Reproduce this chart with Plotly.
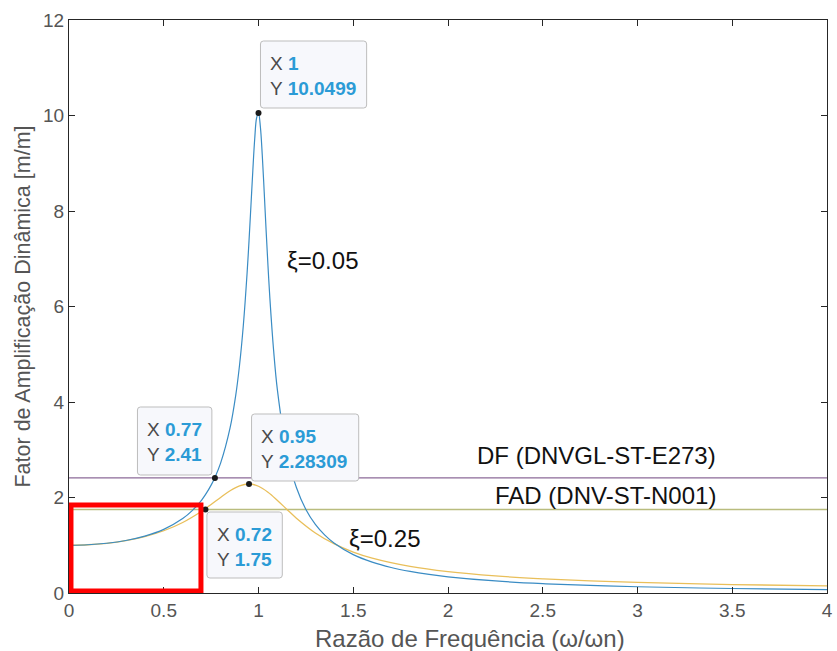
import plotly.graph_objects as go

# ---- data ----
r_a = [0, 0.1, 0.2, 0.3, 0.4, 0.5, 0.6, 0.65, 0.7, 0.72, 0.75, 0.77, 0.8, 0.85, 0.88, 0.9, 0.92, 0.94,
       0.95, 0.96, 0.97, 0.98, 0.99, 1.0, 1.01, 1.02, 1.03, 1.04, 1.05, 1.06, 1.08, 1.1, 1.15, 1.2,
       1.25, 1.3, 1.35, 1.4, 1.5, 1.6, 1.7, 1.8, 1.9, 2.0, 2.25, 2.5, 2.75, 3.0, 3.5, 4.0]
t_a = [1.0, 1.0101, 1.0417, 1.0988, 1.1901, 1.3320, 1.5585, 1.7244, 1.9473, 2.0589, 2.2592, 2.4207,
       2.7203, 3.4580, 4.1454, 4.7757, 5.6089, 6.7131, 7.3790, 8.1049, 8.8449, 9.5061, 9.9514,
       10.0499, 9.7601, 9.1622, 8.4013, 7.6056, 6.8523, 6.1758, 5.0702, 4.2436, 2.9399, 2.2084,
       1.7490, 1.4362, 1.2106, 1.0408, 0.8032, 0.6458, 0.5345, 0.4521, 0.3890, 0.3392, 0.2519,
       0.1961, 0.1579, 0.1304, 0.0941, 0.0718]

r_b = [0, 0.1, 0.2, 0.3, 0.4, 0.5, 0.6, 0.7, 0.75, 0.8, 0.85, 0.9, 0.95, 1.0, 1.05, 1.1, 1.15,
       1.2, 1.3, 1.4, 1.5, 1.6, 1.8, 2.0, 2.25, 2.5, 2.75, 3.0, 3.5, 4.0]
t_b = [1.0, 1.0101, 1.0412, 1.0964, 1.1810, 1.3039, 1.4771, 1.7129, 1.8535, 2.0014, 2.1407, 2.2450,
       2.2831, 2.2361, 2.1114, 1.9385, 1.7497, 1.5674, 1.2582, 1.0274, 0.8575, 0.7305, 0.5573,
       0.4472, 0.3571, 0.2966, 0.2536, 0.2215, 0.1770, 0.1478]

df_level = 2.41
fad_level = 1.75
x_range = [0, 4]

tip_x = [1, 0.77, 0.95, 0.72]
tip_y = [10.0499, 2.41, 2.28309, 1.75]
tip_xlabel = ["1", "0.77", "0.95", "0.72"]
tip_ylabel = ["10.0499", "2.41", "2.28309", "1.75"]

x_ticks = [0, 0.5, 1, 1.5, 2, 2.5, 3, 3.5, 4]
x_ticklabels = ["0", "0.5", "1", "1.5", "2", "2.5", "3", "3.5", "4"]
y_ticks = [0, 2, 4, 6, 8, 10, 12]

# ---- geometry helpers (pixel -> data) ----
L, R, T, B = 69, 833, 20, 593
W, H = 837, 651
def px(xp):
    return (xp - L) / (R - L) * 4
def py(yp):
    return (B - yp) / (B - T) * 12

FONT = "Arial, 'Liberation Sans', sans-serif"
BLUE_TXT = "#2b9bd6"

fig = go.Figure()
fig.add_trace(go.Scatter(x=x_range, y=[df_level, df_level], mode="lines",
                         line=dict(color="#8b6a98", width=1.2), hoverinfo="skip"))
fig.add_trace(go.Scatter(x=x_range, y=[fad_level, fad_level], mode="lines",
                         line=dict(color="#b9bc7e", width=1.5), hoverinfo="skip"))
fig.add_trace(go.Scatter(x=r_b, y=t_b, mode="lines", line_shape="spline",
                         line=dict(color="#e9bf5a", width=1.3), hoverinfo="skip"))
fig.add_trace(go.Scatter(x=r_a, y=t_a, mode="lines", line_shape="spline",
                         line=dict(color="#3a8cc4", width=1.2), hoverinfo="skip"))
fig.add_trace(go.Scatter(x=tip_x, y=tip_y, mode="markers",
                         marker=dict(color="#1a1a1a", size=6), hoverinfo="skip"))

# data tip boxes (pixel boxes: left, top, right, bottom)
boxes = [(262, 41, 369, 108), (138, 407, 213, 475), (253, 414, 361, 481), (208, 512, 284, 578)]
rx, ry = 3 * 4 / (R - L), 3 * 12 / (B - T)
for (l, t, r, b), xl, yl in zip(boxes, tip_xlabel, tip_ylabel):
    x0, x1, y0, y1 = px(l), px(r), py(b), py(t)
    path = (f"M {x0+rx},{y0} L {x1-rx},{y0} Q {x1},{y0} {x1},{y0+ry} L {x1},{y1-ry} "
            f"Q {x1},{y1} {x1-rx},{y1} L {x0+rx},{y1} Q {x0},{y1} {x0},{y1-ry} "
            f"L {x0},{y0+ry} Q {x0},{y0} {x0+rx},{y0} Z")
    fig.add_shape(type="path", path=path, xref="x", yref="y",
                  fillcolor="#f7f8fc", line=dict(color="#bdbdbd", width=1), layer="above")
    for dy, lab, val in [(22, "X", xl), (47, "Y", yl)]:
        fig.add_annotation(x=px(l + 8), y=py(t + dy), xref="x", yref="y", showarrow=False,
                           xanchor="left", yanchor="middle",
                           text=f"<span style='color:#4a4a4a'>{lab}</span> "
                                f"<b><span style='color:{BLUE_TXT}'>{val}</span></b>",
                           font=dict(family=FONT, size=19, color="#4a4a4a"))

# red highlight rectangle
fig.add_shape(type="rect", x0=px(71), x1=px(202), y0=py(591), y1=py(505),
              line=dict(color="#ff0000", width=5), layer="above")

labels = [("ξ=0.05", 325, 260), ("ξ=0.25", 387, 538),
          ("DF (DNVGL-ST-E273)", 601, 455), ("FAD (DNV-ST-N001)", 610, 495)]
for txt, xp_, yp_ in labels:
    fig.add_annotation(x=px(xp_), y=py(yp_), xref="x", yref="y", showarrow=False,
                       text=txt, font=dict(family=FONT, size=24, color="#111111"))

# x-axis title (placed as in the reference, slightly right of centre)
fig.add_annotation(x=(473 - L) / (R - L), y=(B - 638) / (B - T), xref="paper", yref="paper",
                   showarrow=False, xanchor="center", yanchor="middle",
                   text="Razão de Frequência (ω/ωn)",
                   font=dict(family=FONT, size=24, color="#555555"))

axis_common = dict(showline=True, linecolor="#262626", linewidth=1, mirror="ticks",
                   ticks="inside", ticklen=6, tickcolor="#262626", showgrid=False,
                   zeroline=False, ticklabeloverflow="allow",
                   tickfont=dict(family=FONT, size=19, color="#555555"))
fig.update_xaxes(range=x_range, tickvals=x_ticks, ticktext=x_ticklabels, **axis_common)
fig.update_yaxes(range=[0, 12], tickvals=y_ticks,
                 title=dict(text="Fator de Amplificação Dinâmica [m/m]", standoff=6,
                            font=dict(family=FONT, size=21.5, color="#555555")),
                 **axis_common)
fig.update_layout(width=W, height=H, showlegend=False,
                  margin=dict(l=L, r=W - R, t=T, b=H - B),
                  paper_bgcolor="white", plot_bgcolor="white")
fig.write_html("out.html")
